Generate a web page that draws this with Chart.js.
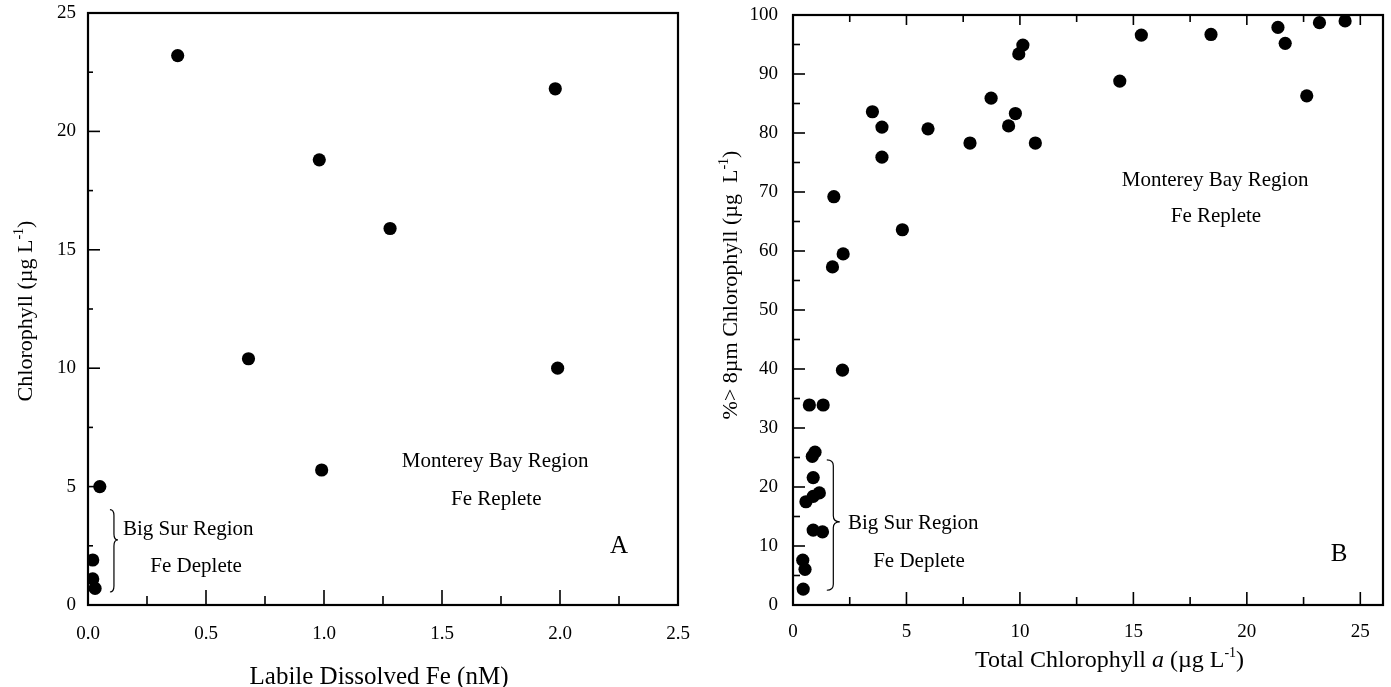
<!DOCTYPE html>
<html>
<head>
<meta charset="utf-8">
<script src="https://cdn.jsdelivr.net/npm/chart.js@4.4.1/dist/chart.umd.min.js"></script>
<style>
  body { margin: 0; background: #fff; }
  .panel { position: absolute; top: 0; }
</style>
</head>
<body>
<div class="panel" style="left:0"><canvas id="chartA" width="695" height="687"></canvas></div>
<div class="panel" style="left:695px"><canvas id="chartB" width="696" height="687"></canvas></div>
<script>
// panel A: labile dissolved Fe vs chlorophyll
const feA = [0.38, 0.98, 1.98, 1.28, 0.68, 0.99, 0.05, 0.02, 0.02, 0.03, 1.99];
const chlA = [23.2, 18.8, 21.8, 15.9, 10.4, 5.7, 5.0, 1.9, 1.1, 0.7, 10.0];

// panel B: total chlorophyll a vs % > 8um
const totChlB = [10.13, 9.95, 8.73, 9.8, 9.5, 10.68, 7.8, 5.95, 3.5, 3.92, 3.92, 1.8, 2.21, 1.74, 4.82,
  15.35, 18.42, 21.37, 21.69, 23.2, 24.33, 14.4, 22.64, 2.18, 0.72, 1.33, 0.85, 0.97, 0.89, 0.57,
  0.89, 1.16, 0.89, 1.3, 0.43, 0.53, 0.45];
const pctB = [94.9, 93.4, 85.9, 83.3, 81.2, 78.3, 78.3, 80.7, 83.6, 81.0, 75.9, 69.2, 59.5, 57.3, 63.6,
  96.6, 96.7, 97.9, 95.2, 98.7, 99.0, 88.8, 86.3, 39.8, 33.9, 33.9, 25.2, 25.9, 21.6, 17.5,
  18.4, 19.0, 12.7, 12.4, 7.6, 6.05, 2.7];

// tick labels
const xLabelsA = [0, 0.5, 1.0, 1.5, 2.0, 2.5];
const yLabelsA = [0, 5, 10, 15, 20, 25];
const xLabelsB = [0, 5, 10, 15, 20, 25];
const yLabelsB = [0, 10, 20, 30, 40, 50, 60, 70, 80, 90, 100];

// tick marks (drawn inward)
const xMarksA = [0.25, 0.5, 0.75, 1.0, 1.25, 1.5, 1.75, 2.0, 2.25];
const yMarksA = [2.5, 5, 7.5, 10, 12.5, 15, 17.5, 20, 22.5];
const xMarksB = [2.5, 5, 7.5, 10, 12.5, 15, 17.5, 20, 22.5, 25];
const yMarksB = [5, 10, 15, 20, 25, 30, 35, 40, 45, 50, 55, 60, 65, 70, 75, 80, 85, 90, 95];

const SERIF = '"Liberation Serif", "Times New Roman", serif';

function drawRich(ctx, parts, x, y, rotate, align) {
  ctx.save();
  ctx.translate(x, y);
  if (rotate) ctx.rotate(-Math.PI / 2);
  let total = 0;
  parts.forEach(p => { ctx.font = p.font; total += ctx.measureText(p.text).width; });
  let cx = align === 'left' ? 0 : -total / 2;
  ctx.textAlign = 'left';
  ctx.textBaseline = 'middle';
  ctx.fillStyle = '#000';
  parts.forEach(p => {
    ctx.font = p.font;
    ctx.fillText(p.text, cx, p.dy || 0);
    cx += ctx.measureText(p.text).width;
  });
  ctx.restore();
}

function drawBrace(ctx, x0, yTop, yTip, yBot, w) {
  const r = 6;
  const xm = x0 + w * 0.5;
  ctx.beginPath();
  ctx.moveTo(x0, yTop);
  ctx.quadraticCurveTo(xm, yTop, xm, yTop + r);
  ctx.lineTo(xm, yTip - r);
  ctx.quadraticCurveTo(xm, yTip, x0 + w, yTip);
  ctx.quadraticCurveTo(xm, yTip, xm, yTip + r);
  ctx.lineTo(xm, yBot - r);
  ctx.quadraticCurveTo(xm, yBot, x0, yBot);
  ctx.lineWidth = 1.2;
  ctx.strokeStyle = '#000';
  ctx.stroke();
}

const panelPlugin = {
  id: 'panel',
  beforeDatasetsDraw(chart, args, opts) {
    const { ctx, chartArea: a, scales: { x, y } } = chart;
    ctx.save();
    ctx.strokeStyle = '#000';
    ctx.lineWidth = 1.6;
    opts.marks.forEach(m => {
      m.values.forEach(v => {
        const len = (v % m.major === 0) ? m.long : m.short;
        ctx.beginPath();
        if (m.side === 'bottom') {
          const px = x.getPixelForValue(v);
          ctx.moveTo(px, a.bottom); ctx.lineTo(px, a.bottom - len);
        } else if (m.side === 'top') {
          const px = x.getPixelForValue(v);
          ctx.moveTo(px, a.top); ctx.lineTo(px, a.top + len);
        } else {
          const py = y.getPixelForValue(v);
          ctx.moveTo(a.left, py); ctx.lineTo(a.left + len, py);
        }
        ctx.stroke();
      });
    });
    ctx.lineWidth = 2.2;
    ctx.strokeRect(a.left, a.top, a.right - a.left, a.bottom - a.top);
    ctx.restore();
  },
  afterDraw(chart, args, opts) {
    const { ctx, scales: { x, y } } = chart;
    ctx.save();
    ctx.fillStyle = '#000';
    ctx.textBaseline = 'middle';
    opts.notes.forEach(n => {
      ctx.font = n.size + 'px ' + SERIF;
      ctx.textAlign = n.align || 'center';
      ctx.fillText(n.text, x.getPixelForValue(n.x), y.getPixelForValue(n.y));
    });
    const b = opts.brace;
    drawBrace(ctx, x.getPixelForValue(b.x), y.getPixelForValue(b.top), y.getPixelForValue(b.tip),
      y.getPixelForValue(b.bottom), b.w);
    opts.titles.forEach(t => drawRich(ctx, t.parts, t.x, t.y, t.rotate, t.align));
    ctx.restore();
  }
};

function fixedTicks(values) {
  return scale => { scale.ticks = values.map(v => ({ value: v })); };
}

function makeChart(id, xs, ys, cfg) {
  const points = xs.map((v, i) => ({ x: v, y: ys[i] }));
  return new Chart(document.getElementById(id), {
    type: 'scatter',
    data: {
      datasets: [{
        data: points,
        backgroundColor: '#000',
        borderWidth: 0,
        pointRadius: 6.6,
        pointHoverRadius: 6.6
      }]
    },
    options: {
      responsive: false,
      animation: false,
      events: [],
      layout: { padding: cfg.padding },
      plugins: {
        legend: { display: false },
        tooltip: { enabled: false },
        panel: cfg.panel
      },
      scales: {
        x: {
          type: 'linear', min: cfg.xMin, max: cfg.xMax,
          grid: { display: false, drawTicks: false },
          border: { display: false },
          afterBuildTicks: fixedTicks(cfg.xLabels),
          afterFit: s => { s.height = cfg.xHeight; s.paddingLeft = 0; s.paddingRight = 0; },
          ticks: {
            padding: cfg.xPad, color: '#000', maxRotation: 0, autoSkip: false,
            font: { family: SERIF, size: 19 },
            callback: cfg.xFormat
          }
        },
        y: {
          type: 'linear', min: cfg.yMin, max: cfg.yMax,
          grid: { display: false, drawTicks: false },
          border: { display: false },
          afterBuildTicks: fixedTicks(cfg.yLabels),
          afterFit: s => { s.width = cfg.yWidth; s.paddingTop = 0; s.paddingBottom = 0; },
          ticks: {
            padding: cfg.yPad, color: '#000', autoSkip: false,
            font: { family: SERIF, size: 19 },
            callback: v => String(v)
          }
        }
      }
    },
    plugins: [panelPlugin]
  });
}

const supFont = '14px ' + SERIF;

makeChart('chartA', feA, chlA, {
  padding: { left: 0, right: 17, top: 13, bottom: 0 },
  xMin: 0, xMax: 2.5, yMin: 0, yMax: 25,
  xLabels: xLabelsA, yLabels: yLabelsA,
  xHeight: 82, yWidth: 88, xPad: 18, yPad: 12,
  xFormat: v => Number(v).toFixed(1),
  panel: {
    marks: [
      { side: 'bottom', values: xMarksA, major: 0.5, long: 15, short: 9 },
      { side: 'left', values: yMarksA, major: 5, long: 12, short: 5 }
    ],
    notes: [
      { text: 'Big Sur Region', x: 0.148, y: 3.18, size: 21, align: 'left' },
      { text: 'Fe Deplete', x: 0.458, y: 1.61, size: 21 },
      { text: 'Monterey Bay Region', x: 1.725, y: 6.06, size: 21 },
      { text: 'Fe Replete', x: 1.73, y: 4.45, size: 21 },
      { text: 'A', x: 2.25, y: 2.46, size: 25 }
    ],
    brace: { x: 0.093, top: 4.03, tip: 2.75, bottom: 0.55, w: 8 },
    titles: [
      { x: 379, y: 677, parts: [{ text: 'Labile Dissolved Fe (nM)', font: '25px ' + SERIF }] },
      { x: 26, y: 311, rotate: true, parts: [
        { text: 'Chlorophyll (\u00b5g L', font: '22px ' + SERIF },
        { text: '-1', font: supFont, dy: -7 },
        { text: ')', font: '22px ' + SERIF }
      ] }
    ]
  }
});

makeChart('chartB', totChlB, pctB, {
  padding: { left: 0, right: 8, top: 15, bottom: 0 },
  xMin: 0, xMax: 26, yMin: 0, yMax: 100,
  xLabels: xLabelsB, yLabels: yLabelsB,
  xHeight: 82, yWidth: 98, xPad: 16, yPad: 15,
  xFormat: v => String(v),
  panel: {
    marks: [
      { side: 'bottom', values: xMarksB, major: 5, long: 13, short: 8 },
      { side: 'top', values: xMarksB, major: 5, long: 10, short: 7 },
      { side: 'left', values: yMarksB, major: 10, long: 12, short: 7 }
    ],
    notes: [
      { text: 'Big Sur Region', x: 2.42, y: 13.9, size: 21, align: 'left' },
      { text: 'Fe Deplete', x: 5.55, y: 7.46, size: 21 },
      { text: 'Monterey Bay Region', x: 18.6, y: 71.9, size: 21 },
      { text: 'Fe Replete', x: 18.64, y: 65.9, size: 21 },
      { text: 'B', x: 24.06, y: 8.5, size: 25 }
    ],
    brace: { x: 1.49, top: 24.6, tip: 14.1, bottom: 2.5, w: 13 },
    titles: [
      { x: 280, y: 661, align: 'left', parts: [
        { text: 'Total Chlorophyll ', font: '24px ' + SERIF },
        { text: 'a', font: 'italic 24px ' + SERIF },
        { text: ' (\u00b5g L', font: '24px ' + SERIF },
        { text: '-1', font: supFont, dy: -8 },
        { text: ')', font: '24px ' + SERIF }
      ] },
      { x: 36, y: 285, rotate: true, parts: [
        { text: '%> 8\u00b5m Chlorophyll (\u00b5g  L', font: '22px ' + SERIF },
        { text: '-1', font: supFont, dy: -7 },
        { text: ')', font: '22px ' + SERIF }
      ] }
    ]
  }
});
</script>
</body>
</html>
